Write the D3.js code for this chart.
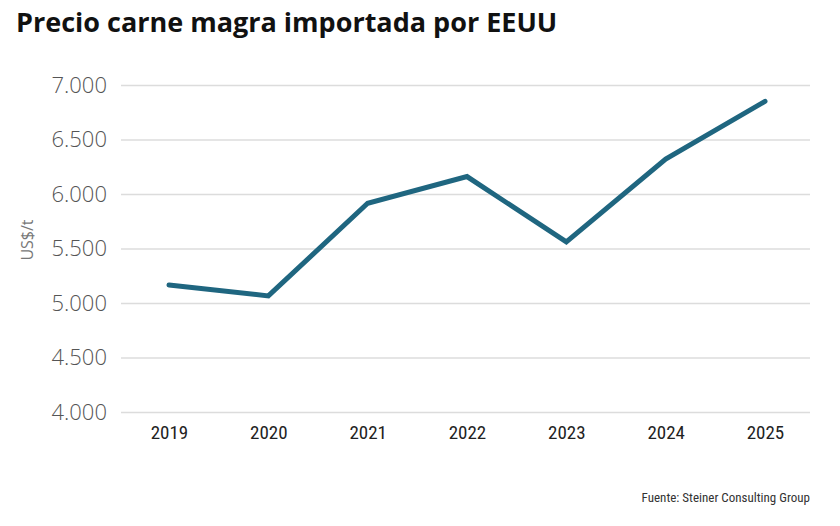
<!DOCTYPE html>
<html><head><meta charset="utf-8">
<script src="https://cdn.jsdelivr.net/npm/d3@7"></script>
<style>body{margin:0;background:#fff}</style>
</head><body>
<svg id="c" width="840" height="526"></svg>
<script>
const years = ["2019","2020","2021","2022","2023","2024","2025"];
const prices = [5165, 5065, 5915, 6160, 5560, 6320, 6850];
const yTicks = [4000, 4500, 5000, 5500, 6000, 6500, 7000];
const title = "Precio carne magra importada por EEUU";
const yLabel = "US$/t";
const source = "Fuente: Steiner Consulting Group";

const svg = d3.select("#c");
const gridL = 121, gridR = 810;
const x = d3.scalePoint().domain(years).range([169, 765]);
const y = d3.scaleLinear().domain([4000, 7000]).range([412, 85]);
const fmt = v => d3.format(",")(v).replace(/,/g, ".");

svg.append("text").attr("x", 16).attr("y", 32)
  .attr("font-family", "'Open Sans', sans-serif").attr("font-weight", 700)
  .attr("font-size", 27).attr("fill", "#111").text(title);

const yAxis = svg.append("g").attr("transform", `translate(${gridL},0)`)
  .call(d3.axisLeft(y).tickValues(yTicks).tickSize(-(gridR - gridL)).tickPadding(14).tickFormat(fmt));
yAxis.select(".domain").remove();
yAxis.selectAll("line").attr("stroke", "#dcdcdc").attr("stroke-width", 1.5);
yAxis.selectAll("text").attr("font-family", "'Open Sans', sans-serif")
  .attr("font-size", 22).attr("fill", "#555").attr("font-weight", 300);

const xAxis = svg.append("g").attr("transform", `translate(0,412)`)
  .call(d3.axisBottom(x).tickSize(0).tickPadding(14));
xAxis.select(".domain").remove();
xAxis.selectAll("text").attr("font-family", "'Liberation Sans Narrow', 'Roboto Condensed', sans-serif")
  .attr("font-size", 19).attr("font-weight", 400).attr("fill", "#222");

svg.append("text").attr("transform", "translate(33,240) rotate(-90)")
  .attr("text-anchor", "middle").attr("font-family", "'Open Sans', sans-serif")
  .attr("font-size", 16).attr("fill", "#777").text(yLabel);

svg.append("path").datum(prices)
  .attr("fill", "none").attr("stroke", "#1f6680").attr("stroke-width", 5)
  .attr("stroke-linecap", "round").attr("stroke-linejoin", "miter")
  .attr("d", d3.line().x((d, i) => x(years[i])).y(d => y(d)));

svg.append("text").attr("x", 810).attr("y", 502).attr("text-anchor", "end")
  .attr("font-family", "'Liberation Sans Narrow', 'Roboto Condensed', sans-serif")
  .attr("font-size", 13).attr("fill", "#333").text(source);
</script>
</body></html>
